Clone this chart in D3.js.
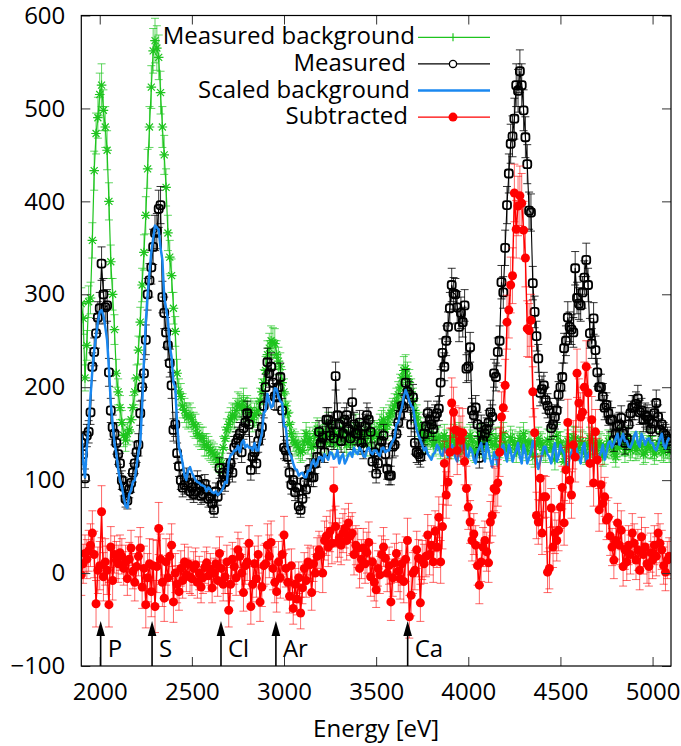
<!DOCTYPE html>
<html><head><meta charset="utf-8">
<script src="https://cdn.jsdelivr.net/npm/d3@7"></script>
<style>
body{margin:0;background:#fff}
svg text{font-family:"Open Sans",sans-serif;font-size:24px;fill:#000}
</style>
</head><body>
<svg id="chart" width="681" height="746"></svg>
<script>
const energy = [
1900,1910,1920,1930,1940,1950,1960,1970,1980,1990,2000,2010,2020,2030,2040,2050,2060,2070,2080,2090,
2100,2110,2120,2130,2140,2150,2160,2170,2180,2190,2200,2210,2220,2230,2240,2250,2260,2270,2280,2290,
2300,2310,2320,2330,2340,2350,2360,2370,2380,2390,2400,2410,2420,2430,2440,2450,2460,2470,2480,2490,
2500,2510,2520,2530,2540,2550,2560,2570,2580,2590,2600,2610,2620,2630,2640,2650,2660,2670,2680,2690,
2700,2710,2720,2730,2740,2750,2760,2770,2780,2790,2800,2810,2820,2830,2840,2850,2860,2870,2880,2890,
2900,2910,2920,2930,2940,2950,2960,2970,2980,2990,3000,3010,3020,3030,3040,3050,3060,3070,3080,3090,
3100,3110,3120,3130,3140,3150,3160,3170,3180,3190,3200,3210,3220,3230,3240,3250,3260,3270,3280,3290,
3300,3310,3320,3330,3340,3350,3360,3370,3380,3390,3400,3410,3420,3430,3440,3450,3460,3470,3480,3490,
3500,3510,3520,3530,3540,3550,3560,3570,3580,3590,3600,3610,3620,3630,3640,3650,3660,3670,3680,3690,
3700,3710,3720,3730,3740,3750,3760,3770,3780,3790,3800,3810,3820,3830,3840,3850,3860,3870,3880,3890,
3900,3910,3920,3930,3940,3950,3960,3970,3980,3990,4000,4010,4020,4030,4040,4050,4060,4070,4080,4090,
4100,4110,4120,4130,4140,4150,4160,4170,4180,4190,4200,4210,4220,4230,4240,4250,4260,4270,4280,4290,
4300,4310,4320,4330,4340,4350,4360,4370,4380,4390,4400,4410,4420,4430,4440,4450,4460,4470,4480,4490,
4500,4510,4520,4530,4540,4550,4560,4570,4580,4590,4600,4610,4620,4630,4640,4650,4660,4670,4680,4690,
4700,4710,4720,4730,4740,4750,4760,4770,4780,4790,4800,4810,4820,4830,4840,4850,4860,4870,4880,4890,
4900,4910,4920,4930,4940,4950,4960,4970,4980,4990,5000,5010,5020,5030,5040,5050,5060,5070,5080,5090];

const measuredBackground = [
290,274,210,245,292,296,358,433,473,490,515,525,498,480,455,400,335,300,262,215,
195,178,162,148,143,150,154,165,178,195,210,240,270,310,345,385,435,480,523,562,
573,565,555,517,480,450,415,366,340,320,285,260,215,195,190,180,175,170,168,170,
165,160,158,150,148,145,145,138,138,135,132,130,128,125,122,119,118,135,145,154,
160,165,170,168,175,182,180,178,185,176,178,172,175,165,170,172,175,185,195,205,
218,235,242,250,248,247,235,228,222,205,195,180,172,160,150,143,140,138,135,130,
132,142,150,140,145,135,138,150,155,146,142,152,148,140,160,148,140,152,150,138,
145,150,155,142,138,147,150,140,145,158,152,143,140,150,148,138,155,148,145,152,
150,145,158,162,165,155,160,168,172,175,180,185,192,200,210,218,220,212,205,195,
185,175,168,160,155,148,150,142,145,150,148,138,140,146,145,135,138,148,142,136,
135,143,148,138,140,150,132,140,145,135,138,148,142,133,130,140,148,136,140,145,
135,142,150,138,138,145,128,136,145,150,140,132,135,146,142,138,130,140,145,136,
150,142,132,140,140,128,125,138,145,140,138,132,130,143,142,135,135,122,148,140,
140,130,120,135,142,138,138,146,145,132,135,142,140,130,128,138,145,136,140,132,
132,140,138,126,128,136,142,138,135,130,125,134,140,145,138,130,145,138,132,136,
140,132,135,140,138,128,130,136,142,135,135,128,132,140,138,132,130,136,135,130];

const measuredBackgroundErr = [
17,17,14,16,17,17,19,21,22,22,23,23,22,22,21,20,18,17,16,15,
14,13,13,12,12,12,12,13,13,14,14,15,16,18,19,20,21,22,23,24,
24,24,24,23,22,21,20,19,18,18,17,16,15,14,14,13,13,13,13,13,
13,13,13,12,12,12,12,12,12,12,11,11,11,11,11,11,11,12,12,12,
13,13,13,13,13,13,13,13,14,13,13,13,13,13,13,13,13,14,14,14,
15,15,16,16,16,16,15,15,15,14,14,13,13,13,12,12,12,12,12,11,
11,12,12,12,12,12,12,12,12,12,12,12,12,12,13,12,12,12,12,12,
12,12,12,12,12,12,12,12,12,13,12,12,12,12,12,12,12,12,12,12,
12,12,13,13,13,12,13,13,13,13,13,14,14,14,14,15,15,15,14,14,
14,13,13,13,12,12,12,12,12,12,12,12,12,12,12,12,12,12,12,12,
12,12,12,12,12,12,11,12,12,12,12,12,12,12,11,12,12,12,12,12,
12,12,12,12,12,12,11,12,12,12,12,11,12,12,12,12,11,12,12,12,
12,12,11,12,12,11,11,12,12,12,12,11,11,12,12,12,12,11,12,12,
12,11,11,12,12,12,12,12,12,11,12,12,12,11,11,12,12,12,12,11,
11,12,12,11,11,12,12,12,12,11,11,12,12,12,12,11,12,12,11,12,
12,11,12,12,12,11,11,12,12,12,12,11,11,12,12,11,11,12,12,11];

const measured = [
140,128,102,148,152,173,222,238,258,275,285,333,300,286,288,216,175,157,150,140,
128,118,100,93,80,78,90,97,108,118,130,138,172,200,215,251,300,315,329,351,
366,368,392,396,297,280,259,245,226,202,154,160,129,115,100,92,95,103,97,88,
92,85,88,100,95,83,85,96,90,80,82,75,68,88,82,113,95,108,98,107,
112,118,108,135,140,145,150,130,156,162,172,160,111,125,130,118,142,150,157,180,
200,227,215,222,205,190,189,200,211,175,135,132,125,108,95,100,87,92,72,68,
80,98,90,105,112,103,103,118,125,152,140,146,130,165,165,148,160,145,212,170,
160,142,150,165,170,155,145,184,160,150,150,162,140,135,158,170,165,152,120,130,
107,118,135,142,148,128,112,105,105,136,138,150,162,170,180,178,205,195,192,160,
189,140,130,128,125,132,150,158,172,165,160,155,168,172,177,205,237,222,250,265,
285,310,301,300,286,265,280,270,288,220,222,243,175,170,178,160,124,157,143,150,
155,162,173,168,215,211,238,250,313,302,350,396,430,462,470,489,525,519,540,525,
498,469,440,390,388,312,281,255,231,194,198,202,186,180,175,156,160,168,175,192,
200,211,242,250,275,265,262,259,328,296,290,288,302,318,337,310,258,247,274,240,
216,200,200,190,178,181,172,165,165,143,150,158,160,167,150,140,145,160,172,178,
178,182,188,173,175,165,170,168,165,155,161,172,183,168,154,160,150,148,145,142];

const measuredErr = [
12,11,10,12,12,13,15,15,16,17,17,18,17,17,17,15,13,13,12,12,
11,11,10,10,9,9,9,10,10,11,11,12,13,14,15,16,17,18,18,19,
19,19,20,20,17,17,16,16,15,14,12,13,11,11,10,10,10,10,10,9,
10,9,9,10,10,9,9,10,9,9,9,9,8,9,9,11,10,10,10,10,
11,11,10,12,12,12,12,11,12,13,13,13,11,11,11,11,12,12,13,13,
14,15,15,15,14,14,14,14,15,13,12,11,11,10,10,10,9,10,8,8,
9,10,9,10,11,10,10,11,11,12,12,12,11,13,13,12,13,12,15,13,
13,12,12,13,13,12,12,14,13,12,12,13,12,12,13,13,13,12,11,11,
10,11,12,12,12,11,11,10,10,12,12,12,13,13,13,13,14,14,14,13,
14,12,11,11,11,11,12,13,13,13,13,12,13,13,13,14,15,15,16,16,
17,18,17,17,17,16,17,16,17,15,15,16,13,13,13,13,11,13,12,12,
12,13,13,13,15,15,15,16,18,17,19,20,21,21,22,22,23,23,23,23,
22,22,21,20,20,18,17,16,15,14,14,14,14,13,13,12,13,13,13,14,
14,15,16,16,17,16,16,16,18,17,17,17,17,18,18,18,16,16,17,15,
15,14,14,14,13,13,13,13,13,12,12,13,13,13,12,12,12,13,13,13,
13,13,14,13,13,13,13,13,13,12,13,13,14,13,12,13,12,12,12,12];

const scaledBackground = [
150,120,103,135,160,190,218,240,255,270,281,283,277,265,251,220,183,160,140,129,
112,100,93,82,72,70,85,89,98,100,115,130,140,180,229,270,300,323,345,360,
374,372,369,350,337,297,285,272,245,232,205,200,160,135,128,118,105,100,111,114,
108,104,100,98,97,95,94,93,88,92,90,87,86,88,84,86,88,92,98,97,
120,127,128,132,132,137,130,140,143,135,138,135,135,132,140,132,132,142,150,172,
175,193,185,178,180,199,198,190,185,183,158,157,135,129,125,118,112,111,105,107,
108,103,103,110,110,118,122,115,118,125,125,120,128,125,122,130,129,123,125,132,
118,125,128,118,122,128,130,125,135,130,128,135,132,126,125,133,135,130,128,132,
132,128,126,134,135,130,132,132,138,142,146,160,162,172,178,190,197,192,185,180,
178,165,154,148,143,138,132,135,128,125,122,128,130,138,135,128,126,134,132,125,
130,138,135,124,120,130,132,138,138,126,125,135,132,122,118,130,135,140,128,120,
140,132,122,114,130,125,115,128,135,138,128,120,138,132,120,127,132,140,125,118,
138,130,118,124,130,142,135,122,112,120,128,136,136,128,125,118,132,140,120,126,
138,132,128,118,112,125,130,138,140,132,125,118,135,140,120,126,132,138,128,122,
118,125,130,138,122,130,140,142,135,140,145,150,138,144,150,142,142,136,135,140,
148,152,140,136,150,145,138,144,145,140,140,134,132,138,145,150,138,134,142,146];

const subtracted = [
-2,10,21,15,24,30,43,20,-33,3,8,66,-4,12,3,-34,28,-8,20,14,
10,22,18,5,12,-6,15,27,2,-10,7,18,27,-15,5,-34,-5,10,-20,8,
-36,7,48,15,-10,-27,12,-5,18,30,-31,0,-12,-20,5,-8,12,-2,10,-4,
-6,5,9,-10,0,-15,-5,6,11,-3,4,-16,0,10,-8,21,5,-12,-4,12,
-40,-12,15,7,-5,25,18,0,-21,8,12,32,-36,-12,10,-6,20,-31,-15,8,
10,30,18,33,5,-10,-20,12,-5,20,41,5,-10,-25,8,-38,-12,-28,-5,-43,
-16,5,-8,12,9,-21,10,0,18,25,20,0,35,40,28,45,32,91,50,33,
38,30,43,48,35,54,40,43,20,30,27,5,15,27,10,22,33,-4,12,-10,
-18,5,-2,20,28,16,0,8,-31,-5,11,21,2,-6,10,-9,15,35,-47,-24,
0,3,25,16,-32,14,10,18,41,20,30,12,45,28,60,12,50,118,84,98,
130,183,173,154,132,152,143,151,120,91,71,55,35,42,30,8,-13,12,28,35,
23,11,55,62,91,89,97,130,168,178,202,270,283,310,320,409,370,395,406,398,
369,339,263,261,272,195,151,62,55,102,43,82,82,1,5,70,28,43,35,46,
71,92,54,111,162,100,84,138,125,215,183,168,173,200,222,194,118,165,97,152,
122,68,95,75,82,57,60,40,28,14,35,54,30,46,7,25,12,30,20,43,
32,14,25,3,39,20,28,10,7,22,14,30,18,43,32,25,8,1,14,18];

const subtractedErr = [
22,21,20,21,22,23,24,25,25,25,26,28,26,25,26,24,22,21,20,20,
20,19,19,18,18,18,18,19,19,20,20,21,22,23,24,25,26,27,27,28,
28,28,28,27,26,25,25,24,24,23,22,21,20,20,19,19,19,18,18,18,
18,18,18,17,18,17,17,17,17,17,17,16,16,17,17,18,18,18,18,18,
18,18,18,19,19,19,19,20,20,20,20,19,19,19,19,20,20,21,21,22,
22,23,23,23,23,22,22,22,22,21,20,20,19,18,18,17,17,17,17,17,
17,17,18,18,18,19,19,20,20,20,20,21,21,21,21,22,22,23,22,21,
21,21,21,21,21,21,21,22,22,21,21,21,21,21,21,22,22,21,20,20,
19,19,20,20,21,20,20,20,20,20,21,21,22,22,23,23,24,24,23,22,
22,21,20,20,20,21,21,22,22,22,21,22,22,22,22,23,24,24,25,25,
26,27,27,26,26,26,26,26,25,24,24,23,22,22,21,21,20,21,21,21,
21,21,22,22,24,24,25,26,27,27,28,29,30,30,30,31,31,32,32,32,
31,31,30,29,28,27,26,25,24,24,23,23,22,22,22,21,22,22,22,22,
23,23,24,24,25,25,25,26,27,26,26,26,27,27,28,27,25,25,25,24,
23,23,22,22,21,21,21,21,20,20,20,21,21,21,21,21,20,21,21,21,
21,21,22,21,21,21,21,21,21,21,20,21,21,21,21,21,20,20,20,20];

const xTicks = [2000,2500,3000,3500,4000,4500,5000];
const yTicks = [-100,0,100,200,300,400,500,600];
const elementLabels = ["P","S","Cl","Ar","Ca"];
const elementEnergies = [2005,2284,2658,2956,3671];
const seriesNames = ["Measured background","Measured","Scaled background","Subtracted"];

const GREEN = "#1ec41e", BLACK = "#000000", BLUE = "#1a88f0", RED = "#ff0000";
const plot = {left:81.3, right:671, top:15.5, bottom:666};
const x = d3.scaleLinear().domain([1900,5100]).range([plot.left, plot.right]);
const y = d3.scaleLinear().domain([-100,600]).range([plot.bottom, plot.top]);
const svg = d3.select("#chart");

svg.append("defs").append("clipPath").attr("id","clip")
  .append("rect").attr("x",plot.left).attr("y",plot.top)
  .attr("width",plot.right-plot.left).attr("height",plot.bottom-plot.top);

const rows = energy.map((e,i)=>({e,
  g:measuredBackground[i], ge:measuredBackgroundErr[i],
  m:measured[i], me:measuredErr[i],
  s:scaledBackground[i],
  r:subtracted[i], re:subtractedErr[i]}));

const plotG = svg.append("g").attr("clip-path","url(#clip)");

function errorBars(key, errKey, color, opacity, width){
  plotG.append("g").attr("fill","none").attr("stroke",color)
    .attr("stroke-opacity",opacity).attr("stroke-width",width)
    .selectAll("path").data(rows).join("path")
    .attr("d", d => {
      const cx = x(d.e), y1 = y(d[key]+d[errKey]), y2 = y(d[key]-d[errKey]);
      return `M${cx},${y1}V${y2}M${cx-4},${y1}H${cx+4}M${cx-4},${y2}H${cx+4}`;
    });
}
function seriesLine(key, color, width){
  plotG.append("path").datum(rows).attr("fill","none").attr("stroke",color)
    .attr("stroke-width",width).attr("stroke-linejoin","round")
    .attr("d", d3.line().x(d=>x(d.e)).y(d=>y(d[key])));
}

// Measured background (green)
errorBars("g","ge",GREEN,0.7,1);
seriesLine("g",GREEN,1.2);
plotG.append("g").attr("stroke",GREEN).attr("stroke-width",1.2).attr("fill","none")
  .selectAll("path").data(rows).join("path")
  .attr("transform", d=>`translate(${x(d.e)},${y(d.g)})`)
  .attr("d","M-4.8,0H4.8M0,-4.8V4.8M-3.5,-3.5L3.5,3.5M-3.5,3.5L3.5,-3.5");

// Measured (black)
errorBars("m","me",BLACK,0.8,1);
seriesLine("m",BLACK,1.1);
plotG.append("g").attr("stroke",BLACK).attr("stroke-width",1.8).attr("fill","none")
  .selectAll("rect").data(rows).join("rect")
  .attr("x", d=>x(d.e)-4).attr("y", d=>y(d.m)-4)
  .attr("width",8).attr("height",8).attr("rx",2.5);

// Scaled background (blue)
seriesLine("s",BLUE,2.5);

// Subtracted (red)
errorBars("r","re",RED,0.6,1);
seriesLine("r",RED,1.4);
plotG.append("g").attr("fill",RED)
  .selectAll("circle").data(rows).join("circle")
  .attr("cx", d=>x(d.e)).attr("cy", d=>y(d.r)).attr("r",4.5);

// Axes (ticks inside, mirrored)
function styleAxis(g){
  g.select(".domain").remove();
  g.selectAll(".tick line").attr("stroke","#333").attr("stroke-width",1);
  g.selectAll("text").attr("font-family",'"Open Sans",sans-serif').attr("font-size",23).attr("fill","#000");
}
svg.append("g").attr("transform",`translate(${plot.left},0)`)
  .call(d3.axisLeft(y).tickValues(yTicks).tickSize(-9).tickPadding(16)).call(styleAxis);
svg.append("g").attr("transform",`translate(${plot.right},0)`)
  .call(d3.axisRight(y).tickValues(yTicks).tickSize(-9).tickFormat("")).call(styleAxis);
svg.append("g").attr("transform",`translate(0,${plot.bottom})`)
  .call(d3.axisBottom(x).tickValues(xTicks).tickSize(-9).tickPadding(17).tickFormat(d3.format("d"))).call(styleAxis);
svg.append("g").attr("transform",`translate(0,${plot.top})`)
  .call(d3.axisTop(x).tickValues(xTicks).tickSize(-9).tickFormat("")).call(styleAxis);

svg.append("rect").attr("x",plot.left).attr("y",plot.top)
  .attr("width",plot.right-plot.left).attr("height",plot.bottom-plot.top)
  .attr("fill","none").attr("stroke","#000").attr("stroke-width",1.2);

// Element arrows
const arrows = svg.append("g");
elementEnergies.forEach((e,i)=>{
  const ax = x(e);
  arrows.append("line").attr("x1",ax).attr("x2",ax).attr("y1",plot.bottom).attr("y2",634)
    .attr("stroke","#000").attr("stroke-width",1.6);
  arrows.append("path").attr("d",`M${ax},621L${ax+4.3},636L${ax-4.3},636Z`).attr("fill","#000");
  arrows.append("text").attr("x",ax+7).attr("y",657).text(elementLabels[i]);
});

// X label
svg.append("text").attr("x",(plot.left+plot.right)/2).attr("y",737)
  .attr("text-anchor","middle").text("Energy [eV]");

// Legend
const legend = svg.append("g");
const legendColors = [GREEN, BLACK, BLUE, RED];
const legendTextRight = [415, 406, 410, 408];
seriesNames.forEach((name,i)=>{
  const yb = 44.3 + i*26.6, yl = yb - 7;
  legend.append("text").attr("x",legendTextRight[i]).attr("y",yb).attr("text-anchor","end").text(name);
  legend.append("line").attr("x1",418).attr("x2",490).attr("y1",yl).attr("y2",yl)
    .attr("stroke",legendColors[i]).attr("stroke-width", i===2 ? 2.5 : 1.2);
  if(i===0) legend.append("line").attr("x1",453).attr("x2",453).attr("y1",yl-4).attr("y2",yl+4)
    .attr("stroke",GREEN).attr("stroke-width",1.2);
  if(i===1) legend.append("circle").attr("cx",453).attr("cy",yl).attr("r",3.6)
    .attr("fill","#fff").attr("stroke","#000").attr("stroke-width",1.3);
  if(i===3) legend.append("circle").attr("cx",453).attr("cy",yl).attr("r",4.5).attr("fill",RED);
});
</script>
</body></html>
